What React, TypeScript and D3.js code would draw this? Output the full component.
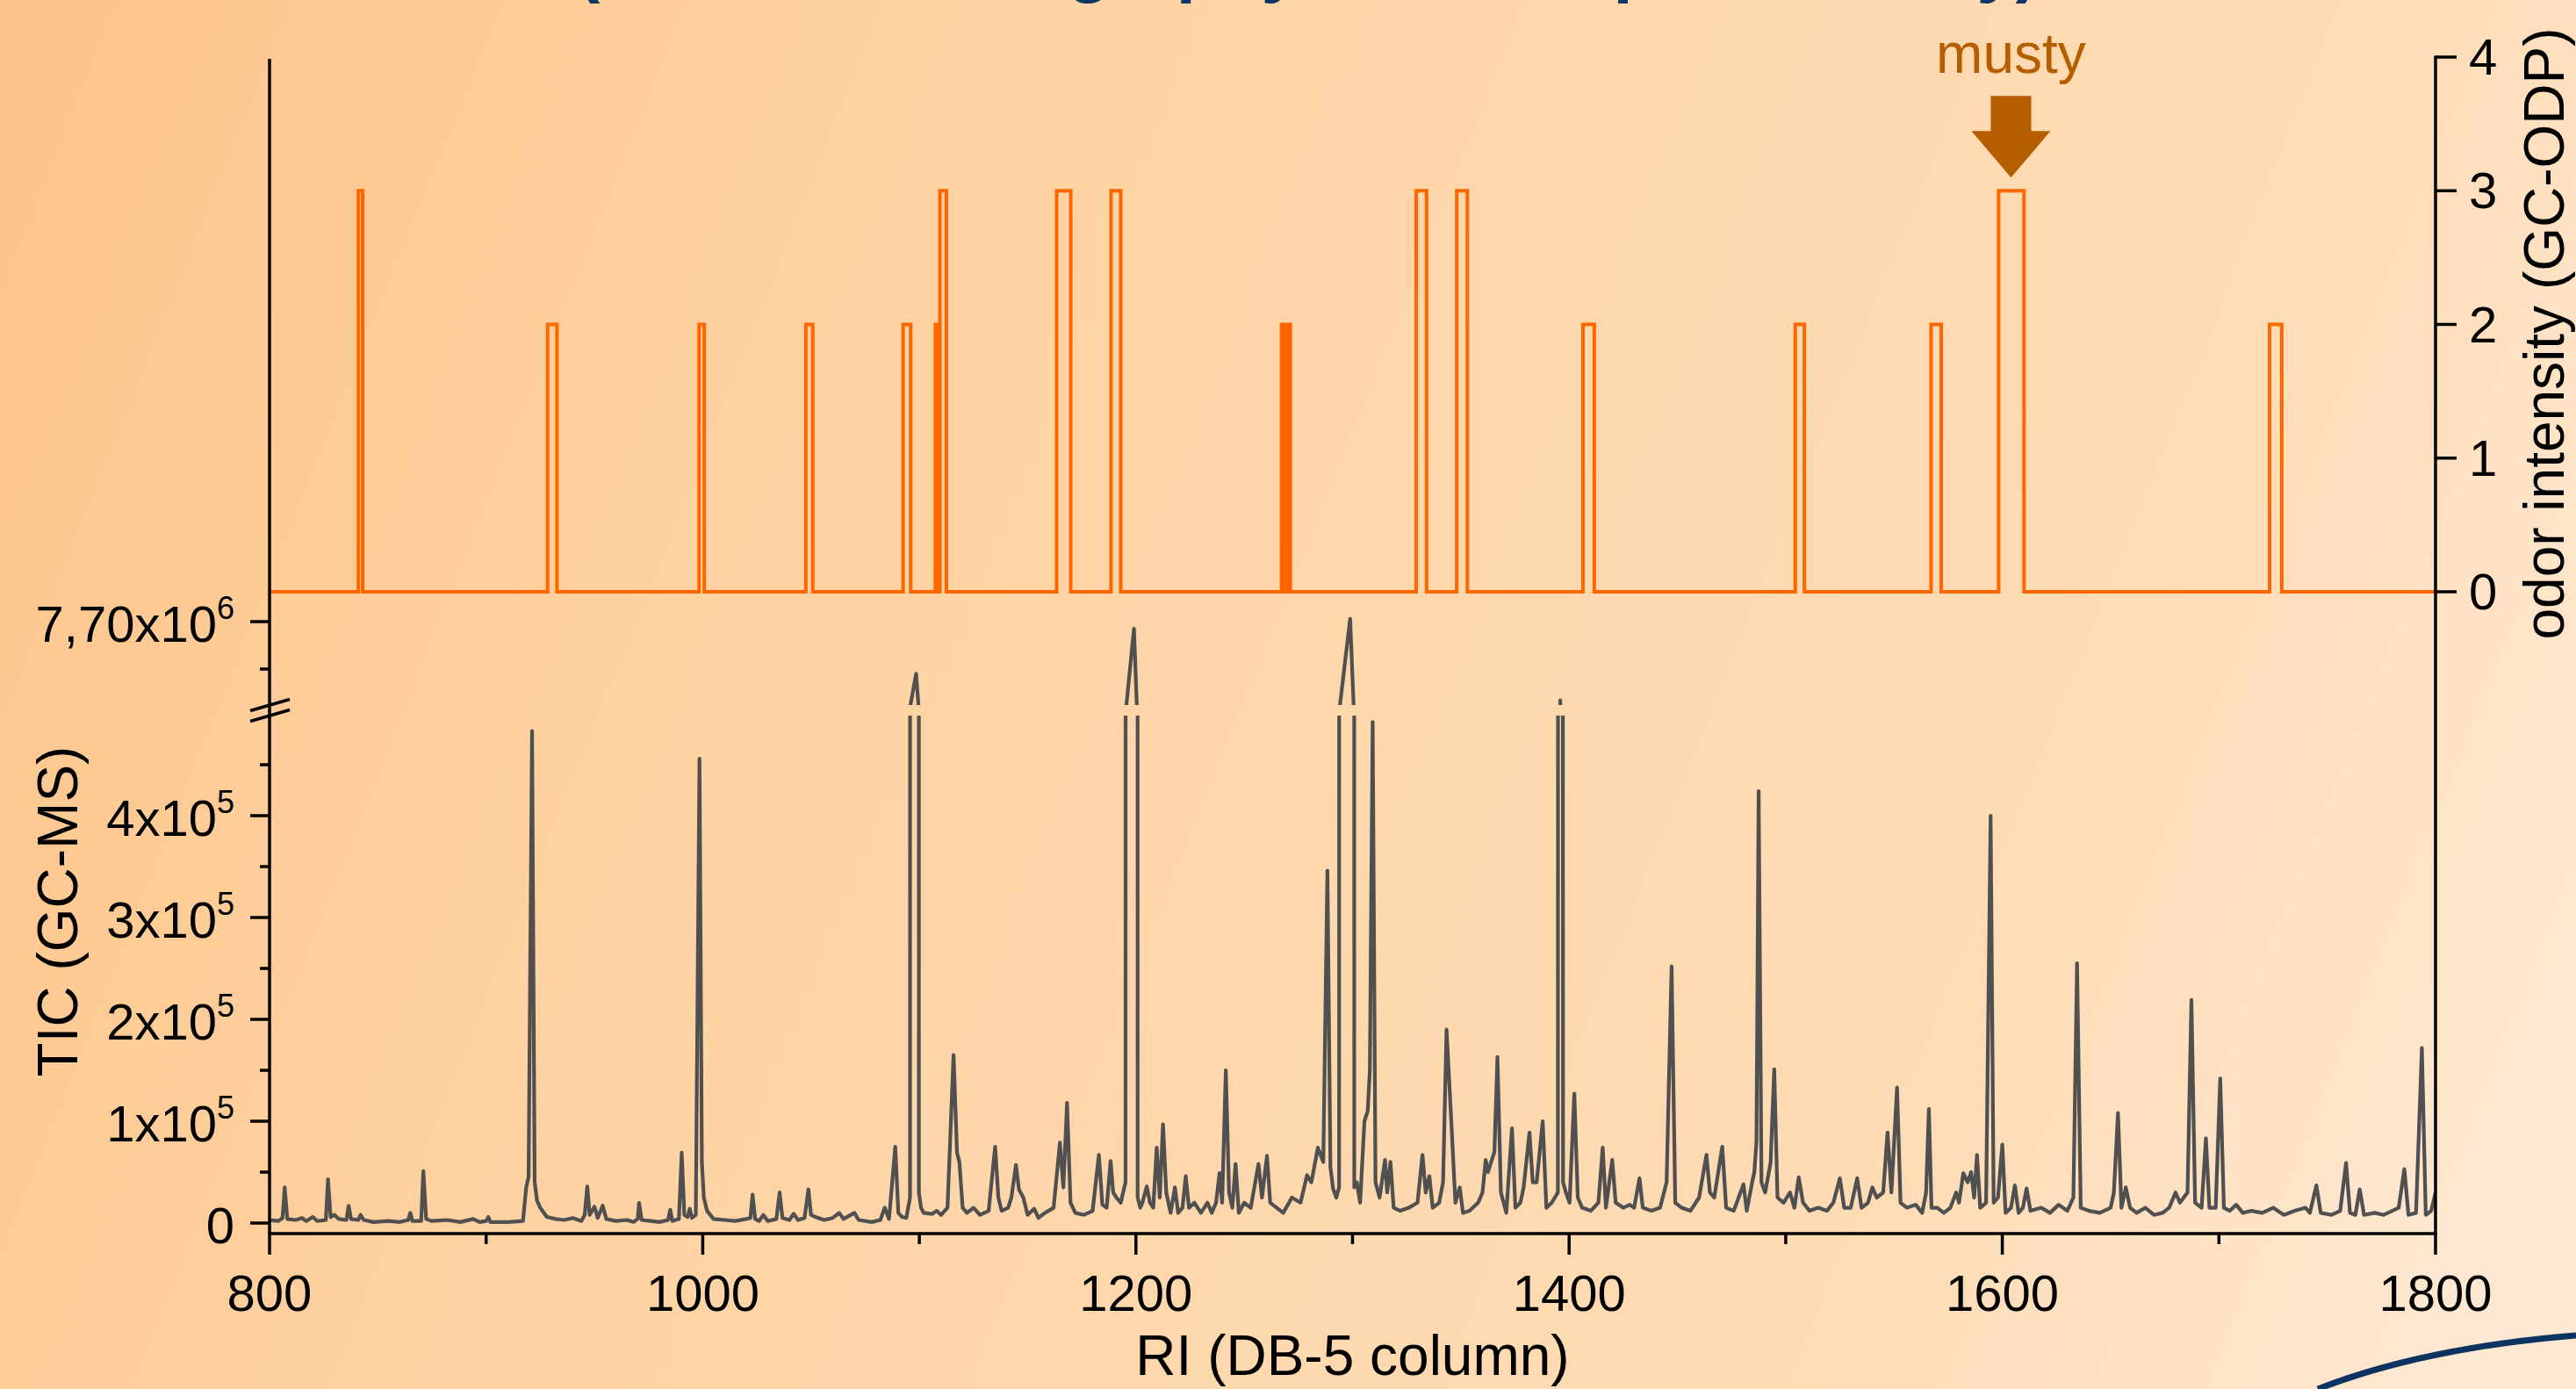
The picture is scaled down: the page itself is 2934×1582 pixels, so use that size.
import React, { useEffect, useRef } from 'react';
import * as d3 from 'd3';

const W = 2934;
const H = 1582;
const FONT = '"Liberation Sans", Arial, Helvetica, sans-serif';

// x axis (retention index)
const xMajorTicks = [800, 1000, 1200, 1400, 1600, 1800];
const xMinorTicks = [900, 1100, 1300, 1500, 1700];

// left axis (TIC), lower and upper part of the broken axis
const ticLowMajor = [0, 1e5, 2e5, 3e5, 4e5];
const ticLowLabels = ['0', '1x10', '2x10', '3x10', '4x10'];
const ticLowExp = ['', '5', '5', '5', '5'];
const ticLowMinor = [0.5e5, 1.5e5, 2.5e5, 3.5e5, 4.5e5];
const ticHighMajor = [7.7e6];
const ticHighLabels = ['7,70x10'];
const ticHighExp = ['6'];
const ticHighMinor = [7.65e6];

// right axis (odor intensity)
const odpTicks = [0, 1, 2, 3, 4];

// GC-ODP perceptions: [RI start, RI end, intensity]
const odpPeaks: [number, number, number][] = [
  [841.0, 843.0, 3],
  [928.4, 932.7, 2],
  [998.3, 1000.7, 2],
  [1047.6, 1050.8, 2],
  [1092.5, 1096.0, 2],
  [1107.4, 1108.8, 2],
  [1109.5, 1112.5, 3],
  [1163.4, 1169.9, 3],
  [1188.5, 1193.0, 3],
  [1267.2, 1268.3, 2],
  [1269.9, 1271.3, 2],
  [1329.4, 1334.2, 3],
  [1348.1, 1353.0, 3],
  [1406.4, 1411.6, 2],
  [1504.4, 1508.6, 2],
  [1567.1, 1571.8, 2],
  [1598.3, 1610.0, 3],
  [1723.4, 1729.0, 2],
];

// TIC trace: [RI, counts]
const ticTrace: [number, number][] = [
  [800, 3e3], [804, 2e3], [806, 5e3], [807, 35e3], [808.2, 4e3], [812, 3e3], [815, 5e3], [817, 2e3],
  [820, 6e3], [822, 2e3], [826, 3e3], [827, 43e3], [828.2, 6e3], [830, 8e3], [832, 4e3], [835.5, 3e3],
  [836.5, 17e3], [837.6, 4e3], [841, 3e3], [842, 8e3], [843.5, 3e3], [848, 1e3], [855, 2e3], [860, 1e3],
  [864, 3e3], [865, 10e3], [866, 2e3], [870, 2e3], [871, 51e3], [872.3, 4e3], [875, 2e3], [882, 3e3],
  [888, 1e3], [894, 4e3], [897, 1e3], [900, 2e3], [901, 6e3], [902, 1e3], [910, 1e3], [917, 2e3],
  [918.5, 35e3], [919.6, 45e3], [921.2, 483e3], [922.4, 40e3], [923.5, 22e3], [925, 15e3], [928, 6e3],
  [932, 4e3], [936, 3e3], [940, 5e3], [944, 2e3], [945.5, 8e3], [946.7, 36e3], [947.8, 8e3], [950, 16e3],
  [951.5, 5e3], [953.8, 17e3], [955.5, 4e3], [960, 2e3], [965, 3e3], [968, 1e3], [970, 4e3], [970.6, 20e3],
  [971.8, 3e3], [976, 2e3], [980, 1e3], [984, 3e3], [985, 13e3], [986, 2e3], [989, 4e3], [990.3, 69e3],
  [991.5, 8e3], [993, 6e3], [994, 14e3], [995, 5e3], [996.8, 8e3], [998.5, 456e3], [999.6, 60e3],
  [1000.5, 25e3], [1002, 12e3], [1005, 4e3], [1010, 3e3], [1015, 2e3], [1020, 4e3], [1022, 5e3],
  [1023, 28e3], [1024.2, 4e3], [1026, 2e3], [1028, 8e3], [1030, 2e3], [1034, 4e3], [1035.5, 30e3],
  [1036.8, 5e3], [1040, 3e3], [1042, 9e3], [1044, 3e3], [1047, 5e3], [1048.8, 33e3], [1050, 8e3],
  [1052, 6e3], [1056, 3e3], [1060, 5e3], [1063, 10e3], [1065, 4e3], [1070, 10e3], [1072, 3e3],
  [1078, 1e3], [1082, 3e3], [1084, 15e3], [1086, 4e3], [1088.9, 75e3], [1090.3, 10e3], [1092, 6e3],
  [1094, 5e3], [1095.7, 25e3], [1095.9, 7.612e6], [1098.5, 7.645e6], [1099.6, 7.612e6], [1099.8, 30e3],
  [1100.8, 15e3], [1102, 10e3], [1106, 9e3], [1108, 12e3], [1110, 8e3], [1113, 15e3], [1115.8, 165e3],
  [1117.4, 69e3], [1118.5, 60e3], [1120, 15e3], [1122, 10e3], [1125, 15e3], [1128, 8e3], [1132, 12e3],
  [1135, 75e3], [1136.5, 25e3], [1138, 12e3], [1141, 15e3], [1142.5, 25e3], [1144.6, 57e3], [1146, 33e3],
  [1148, 25e3], [1150, 8e3], [1153, 14e3], [1155, 5e3], [1158, 10e3], [1162, 15e3], [1164.9, 79e3],
  [1166.5, 35e3], [1168.2, 118e3], [1169.8, 20e3], [1172, 10e3], [1176, 8e3], [1180, 12e3],
  [1182.9, 67e3], [1184.5, 18e3], [1186.5, 15e3], [1188.3, 61e3], [1189.5, 30e3], [1191, 25e3],
  [1193, 20e3], [1195.2, 40e3], [1195.6, 7.612e6], [1199.1, 7.6926e6], [1200.4, 7.612e6], [1200.8, 25e3],
  [1202, 15e3], [1203, 20e3], [1205, 36e3], [1206.5, 20e3], [1208, 15e3], [1209.6, 74e3], [1211, 25e3],
  [1212.5, 97e3], [1214, 30e3], [1216, 10e3], [1218, 35e3], [1219.5, 10e3], [1221.5, 15e3], [1223, 46e3],
  [1224.5, 15e3], [1227, 20e3], [1230, 10e3], [1233, 20e3], [1235, 10e3], [1237, 20e3], [1238.6, 49e3],
  [1239.8, 20e3], [1241.5, 150e3], [1243, 30e3], [1244.5, 15e3], [1246, 58e3], [1247.5, 10e3],
  [1250, 20e3], [1253, 15e3], [1256.6, 58e3], [1258.2, 25e3], [1260.5, 66e3], [1262, 20e3], [1265, 15e3],
  [1268, 10e3], [1272, 25e3], [1276, 20e3], [1279, 47e3], [1281, 40e3], [1284, 74e3], [1286.5, 60e3],
  [1288.4, 346e3], [1289.8, 55e3], [1291, 34e3], [1292.5, 25e3], [1293.8, 35e3], [1294.2, 7.612e6],
  [1298.9, 7.703e6], [1300.5, 7.612e6], [1300.8, 35e3], [1302, 40e3], [1303.5, 20e3], [1305.5, 100e3],
  [1307, 110e3], [1308, 150e3], [1309.3, 492e3], [1310.6, 40e3], [1312.5, 25e3], [1315, 62e3],
  [1316, 30e3], [1317.5, 60e3], [1319, 15e3], [1322, 12e3], [1326, 15e3], [1330, 20e3], [1332.3, 67e3],
  [1333.8, 30e3], [1335.5, 46e3], [1337, 15e3], [1340, 20e3], [1341.8, 40e3], [1343.4, 190e3],
  [1345.4, 108e3], [1347.5, 20e3], [1349.5, 35e3], [1351, 10e3], [1354, 12e3], [1358, 20e3], [1360, 30e3],
  [1361.5, 62e3], [1362.5, 50e3], [1365.5, 70e3], [1366.9, 163e3], [1368.5, 30e3], [1371, 10e3],
  [1373.6, 93e3], [1375.2, 15e3], [1377.5, 20e3], [1379, 35e3], [1381.7, 89e3], [1383.2, 40e3],
  [1385, 40e3], [1387.8, 100e3], [1389.5, 15e3], [1392, 20e3], [1394.8, 30e3], [1395.9, 7.617e6],
  [1397.2, 40e3], [1398.5, 30e3], [1400.2, 20e3], [1402.4, 127e3], [1404, 25e3], [1406, 15e3],
  [1410, 12e3], [1413.5, 20e3], [1415.5, 74e3], [1417, 15e3], [1419.9, 62e3], [1421.5, 20e3], [1425, 15e3],
  [1428, 18e3], [1430, 15e3], [1432.5, 44e3], [1434, 15e3], [1438, 12e3], [1442, 15e3], [1445, 40e3],
  [1447.3, 252e3], [1449, 20e3], [1452, 15e3], [1456, 12e3], [1460, 25e3], [1463.4, 67e3], [1465, 30e3],
  [1467, 25e3], [1470.7, 75e3], [1472.5, 15e3], [1476, 12e3], [1480.5, 38e3], [1482, 12e3],
  [1484.5, 40e3], [1485.5, 50e3], [1486.5, 80e3], [1487.5, 424e3], [1488.8, 40e3], [1490.5, 30e3],
  [1493, 59e3], [1494.7, 151e3], [1496.2, 25e3], [1499, 20e3], [1502, 30e3], [1504, 15e3], [1506, 45e3],
  [1508, 20e3], [1511, 12e3], [1515, 15e3], [1519, 12e3], [1522, 20e3], [1525, 44e3], [1527, 15e3],
  [1530, 15e3], [1533, 44e3], [1535, 15e3], [1538, 20e3], [1540, 35e3], [1542, 25e3], [1545, 30e3],
  [1547, 89e3], [1548.8, 30e3], [1551.4, 133e3], [1553, 20e3], [1556, 15e3], [1560, 18e3], [1563, 10e3],
  [1564.8, 30e3], [1566.1, 112e3], [1567.3, 15e3], [1570, 15e3], [1573, 10e3], [1576, 15e3],
  [1578.7, 30e3], [1580, 20e3], [1582, 49e3], [1584, 40e3], [1585.6, 50e3], [1587, 25e3], [1588.3, 67e3],
  [1589.8, 15e3], [1592.5, 20e3], [1594.6, 400e3], [1596, 20e3], [1598, 25e3], [1600, 77e3],
  [1601.5, 10e3], [1604, 15e3], [1605.8, 37e3], [1607.5, 10e3], [1609.5, 15e3], [1611.2, 34e3],
  [1613, 12e3], [1618, 15e3], [1622, 10e3], [1626, 18e3], [1630, 12e3], [1632.8, 25e3], [1634.5, 255e3],
  [1636.2, 15e3], [1640, 12e3], [1645, 10e3], [1650, 15e3], [1651.5, 30e3], [1653.4, 108e3], [1655, 15e3],
  [1657, 35e3], [1659, 15e3], [1662, 10e3], [1666, 15e3], [1670, 8e3], [1674, 10e3], [1677, 15e3],
  [1680, 30e3], [1682, 20e3], [1685.5, 30e3], [1687.3, 219e3], [1689, 20e3], [1692, 15e3], [1694, 83e3],
  [1695.6, 15e3], [1698.5, 15e3], [1700.6, 142e3], [1702.3, 15e3], [1705, 12e3], [1708, 18e3],
  [1711, 10e3], [1715, 12e3], [1720, 10e3], [1725, 15e3], [1730, 8e3], [1735, 12e3], [1740, 15e3],
  [1742, 10e3], [1745, 37e3], [1747, 10e3], [1752, 8e3], [1756, 12e3], [1758.7, 59e3], [1760.5, 10e3],
  [1763, 8e3], [1765, 33e3], [1767, 8e3], [1772, 10e3], [1776, 8e3], [1780, 12e3], [1783, 15e3],
  [1785.6, 53e3], [1787.5, 8e3], [1791, 10e3], [1793.7, 172e3], [1795.5, 8e3], [1798, 12e3], [1800, 30e3],
];

const musty = { label: 'musty', ri: 1604 };

const App = () => {
  const svgRef = useRef<SVGSVGElement>(null);

  useEffect(() => {
    document.body.style.margin = '0';
    const svg = d3.select(svgRef.current);
    svg.selectAll('*').remove();

    // scales
    const x = d3.scaleLinear().domain([800, 1800]).range([307, 2774]);
    const yOdp = d3.scaleLinear().domain([0, 4]).range([674, 65]);
    const yLow = d3.scaleLinear().domain([0, 5e5]).range([1393, 813]);
    const yHigh = d3.scaleLinear().domain([7.6e6, 7.7e6]).range([816, 708]);
    const axisY = 1405;
    const breakLow = yLow(5e5) + 2; // 815
    const breakHigh = yHigh(7.612e6); // ~803

    const defs = svg.append('defs');
    const grad = defs.append('linearGradient')
      .attr('id', 'bg')
      .attr('gradientUnits', 'userSpaceOnUse')
      .attr('x1', 0).attr('y1', 0).attr('x2', W).attr('y2', W * 0.4);
    grad.append('stop').attr('offset', 0).attr('stop-color', '#fdc48a');
    grad.append('stop').attr('offset', 0.35).attr('stop-color', '#fed3a3');
    grad.append('stop').attr('offset', 0.8).attr('stop-color', '#fedcb6');
    grad.append('stop').attr('offset', 1).attr('stop-color', '#fee8d2');

    defs.append('clipPath').attr('id', 'clipLow').append('rect')
      .attr('x', x(800)).attr('y', breakLow).attr('width', x(1800) - x(800)).attr('height', axisY - breakLow);
    defs.append('clipPath').attr('id', 'clipHigh').append('rect')
      .attr('x', x(800)).attr('y', 600).attr('width', x(1800) - x(800)).attr('height', breakHigh - 600);

    svg.append('rect').attr('width', W).attr('height', H).attr('fill', 'url(#bg)');

    // title line cut by the top edge of the picture
    svg.append('text')
      .attr('x', 657).attr('y', -11)
      .attr('textLength', 1665).attr('lengthAdjust', 'spacingAndGlyphs')
      .attr('font-family', FONT).attr('font-size', 72).attr('font-weight', 'bold')
      .attr('fill', '#0b3768')
      .text('(Gas chromatography – mass spectrometry)');

    // decorative arc at bottom right
    svg.append('path')
      .attr('d', `M 2640 ${H} Q 2760 1535 ${W} 1521`)
      .attr('fill', 'none').attr('stroke', '#0d3461').attr('stroke-width', 7);

    // TIC trace, drawn once per part of the broken axis
    const lineLow = d3.line<[number, number]>().x(d => x(d[0])).y(d => yLow(d[1]));
    const lineHigh = d3.line<[number, number]>().x(d => x(d[0])).y(d => yHigh(d[1]));
    svg.append('path')
      .attr('clip-path', 'url(#clipLow)')
      .attr('d', lineLow(ticTrace))
      .attr('fill', 'none').attr('stroke', '#505050').attr('stroke-width', 4.2).attr('stroke-linejoin', 'round');
    svg.append('path')
      .attr('clip-path', 'url(#clipHigh)')
      .attr('d', lineHigh(ticTrace))
      .attr('fill', 'none').attr('stroke', '#505050').attr('stroke-width', 4.2).attr('stroke-linejoin', 'round');

    // ODP step trace
    const odpPts: [number, number][] = [[800, 0]];
    odpPeaks.forEach(([s, e, l]) => {
      odpPts.push([s, 0], [s, l], [e, l], [e, 0]);
    });
    odpPts.push([1800, 0]);
    const lineOdp = d3.line<[number, number]>().x(d => x(d[0])).y(d => yOdp(d[1]));
    svg.append('path')
      .attr('d', lineOdp(odpPts))
      .attr('fill', 'none').attr('stroke', '#ff6600').attr('stroke-width', 4);

    // axes
    const axes = svg.append('g').attr('stroke', '#000').attr('stroke-width', 3.5).attr('fill', 'none');
    axes.append('line').attr('x1', x(800)).attr('x2', x(800)).attr('y1', 67).attr('y2', axisY + 1.5);
    axes.append('line').attr('x1', x(1800)).attr('x2', x(1800)).attr('y1', yOdp(4) - 1.5).attr('y2', axisY + 1.5);
    axes.append('line').attr('x1', x(800) - 1.5).attr('x2', x(1800) + 1.5).attr('y1', axisY).attr('y2', axisY);

    // break marks on the left axis
    [breakHigh, breakLow].forEach(b => {
      axes.append('line')
        .attr('x1', x(800) - 22).attr('y1', b + 6.5)
        .attr('x2', x(800) + 23).attr('y2', b - 6.5);
    });

    // x ticks
    xMajorTicks.forEach(v => {
      axes.append('line').attr('x1', x(v)).attr('x2', x(v)).attr('y1', axisY).attr('y2', axisY + 24);
    });
    xMinorTicks.forEach(v => {
      axes.append('line').attr('x1', x(v)).attr('x2', x(v)).attr('y1', axisY).attr('y2', axisY + 12);
    });

    // left ticks
    const leftMajor = [...ticLowMajor.map(v => yLow(v)), ...ticHighMajor.map(v => yHigh(v))];
    const leftMinor = [...ticLowMinor.map(v => yLow(v)), ...ticHighMinor.map(v => yHigh(v))];
    leftMajor.forEach(y => {
      axes.append('line').attr('x1', x(800) - 22).attr('x2', x(800)).attr('y1', y).attr('y2', y);
    });
    leftMinor.forEach(y => {
      axes.append('line').attr('x1', x(800) - 11).attr('x2', x(800)).attr('y1', y).attr('y2', y);
    });

    // right ticks
    odpTicks.forEach(v => {
      axes.append('line').attr('x1', x(1800)).attr('x2', x(1800) + 24).attr('y1', yOdp(v)).attr('y2', yOdp(v));
    });

    const txt = svg.append('g').attr('font-family', FONT).attr('fill', '#000');

    // x tick labels
    xMajorTicks.forEach(v => {
      txt.append('text').attr('x', x(v)).attr('y', 1493)
        .attr('text-anchor', 'middle').attr('font-size', 58).text(v);
    });

    // left tick labels with superscript exponents
    const leftLabel = (y: number, main: string, exp: string) => {
      const t = txt.append('text').attr('x', 267).attr('y', y + 23)
        .attr('text-anchor', 'end').attr('font-size', 58);
      t.append('tspan').text(main);
      if (exp) t.append('tspan').attr('dy', -26).attr('font-size', 36).text(exp);
    };
    ticLowMajor.forEach((v, i) => leftLabel(yLow(v), ticLowLabels[i], ticLowExp[i]));
    ticHighMajor.forEach((v, i) => leftLabel(yHigh(v), ticHighLabels[i], ticHighExp[i]));

    // right tick labels
    odpTicks.forEach(v => {
      txt.append('text').attr('x', 2812).attr('y', yOdp(v) + 20)
        .attr('font-size', 58).text(v);
    });

    // axis titles
    txt.append('text').attr('x', (x(800) + x(1800)) / 2).attr('y', 1566)
      .attr('text-anchor', 'middle').attr('font-size', 64).text('RI (DB-5 column)');
    txt.append('text').attr('transform', 'translate(88,1038) rotate(-90)')
      .attr('text-anchor', 'middle').attr('font-size', 64).text('TIC (GC-MS)');
    txt.append('text').attr('transform', 'translate(2920,380) rotate(-90)')
      .attr('text-anchor', 'middle').attr('font-size', 64).text('odor intensity (GC-ODP)');

    // musty annotation
    const mx = x(musty.ri);
    const tip = yOdp(3) - 15;
    svg.append('text').attr('x', mx).attr('y', 83)
      .attr('text-anchor', 'middle').attr('font-family', FONT).attr('font-size', 64)
      .attr('fill', '#b55e00').text(musty.label);
    svg.append('path')
      .attr('d', `M ${mx - 23} ${tip - 93} H ${mx + 23} V ${tip - 53} H ${mx + 45} L ${mx} ${tip} L ${mx - 45} ${tip - 53} H ${mx - 23} Z`)
      .attr('fill', '#b55e00');
  }, []);

  return (
    <div style={{ position: 'absolute', left: 0, top: 0 }}>
      <svg ref={svgRef} width={W} height={H} style={{ display: 'block' }} />
    </div>
  );
};

export default App;
